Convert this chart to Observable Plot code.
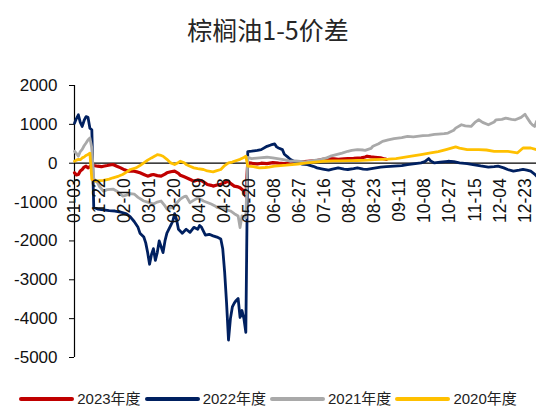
<!DOCTYPE html>
<html><head><meta charset="utf-8">
<script src="https://cdn.jsdelivr.net/npm/d3@7"></script>
<script src="https://cdn.jsdelivr.net/npm/@observablehq/plot@0.6"></script>
<style>
body{margin:0;background:#fff;width:536px;height:408px;overflow:hidden;position:relative;font-family:"Liberation Sans","Noto Sans CJK SC",sans-serif;}
#title{height:58px;line-height:58px;text-align:center;font-size:25px;color:#262626;font-family:"Noto Sans CJK SC",sans-serif;}
#legend{position:absolute;left:0;top:390px;width:536px;height:17px;line-height:17px;display:flex;justify-content:center;align-items:center;font-size:15px;color:#222;}
.item{display:flex;align-items:center;margin:0 2px;white-space:nowrap;line-height:17px;}
.sw{width:55px;height:4px;margin-right:3px;border-radius:2px;}
</style></head>
<body>
<div id="title">棕榈油1-5价差</div>
<div id="chart"></div>
<div id="legend"></div>
<script>
// Category tick labels (trading-day axis, one label every 13 trading days)
const xLabels = ["01-03","01-22","02-10","03-01","03-20","04-09","04-28","05-20","06-08","06-27","07-16","08-04","08-23","09-11","10-08","10-27","11-15","12-04","12-23"];
const xTickIdx = [0,13,26,39,52,65,78,91,104,117,130,143,156,169,182,195,208,221,234];
const yTicks = [2000,1000,0,-1000,-2000,-3000,-4000,-5000];

const seriesNames = ["2023年度","2022年度","2021年度","2020年度"];
const seriesColors = ["#C00000","#002060","#A9A9A9","#FFC000"];

// [trading-day index, spread]
const s2023 = [[0,-247],[1,-300],[2,-290],[3,-200],[4,-162],[5,-100],[6,-77],[7,-120],[8,-90],[9,-35],[10,-60],[12,-77],[14,-90],[15,-77],[17,-60],[19,-40],[20,-35],[22,-80],[24,-120],[26,-170],[28,-205],[31,-205],[33,-230],[34,-247],[36,-290],[38,-333],[40,-300],[41,-290],[43,-320],[45,-333],[47,-280],[48,-247],[50,-220],[52,-205],[54,-260],[55,-310],[57,-350],[59,-392],[61,-440],[62,-461],[64,-430],[66,-450],[68,-510],[69,-546],[71,-570],[72,-589],[74,-560],[76,-546],[78,-500],[80,-461],[81,-520],[83,-589],[85,-610],[86,-632],[88,-717],[89,-850],[90,8],[92,0],[95,-20],[97,0],[100,-10],[103,17],[106,0],[109,-10],[112,8],[115,20],[118,35],[121,51],[124,60],[126,68],[129,100],[132,120],[135,110],[137,100],[140,115],[142,120],[145,125],[149,137],[151,160],[152,180],[154,165],[156,154],[159,137],[161,110],[162,100]];

const s2022 = [[0,1030],[1,1150],[2,1245],[3,1050],[4,947],[5,1100],[6,1200],[7,1180],[8,900],[9,860],[10,-1140],[12,-1180],[15,-1200],[18,-1220],[21,-1230],[24,-1260],[27,-1300],[29,-1380],[31,-1500],[33,-1650],[34,-1800],[36,-1900],[37,-2050],[38,-2300],[39,-2600],[40,-2350],[41,-2200],[42,-2500],[43,-2300],[44,-2000],[45,-2150],[46,-2300],[47,-2000],[48,-1800],[50,-1600],[51,-1500],[52,-1300],[53,-1450],[54,-1700],[56,-1800],[58,-1700],[60,-1780],[62,-1650],[64,-1700],[65,-1600],[66,-1650],[68,-1850],[70,-1830],[72,-1870],[74,-1900],[76,-1950],[77,-2200],[78,-2800],[79,-3600],[80,-4550],[81,-4000],[82,-3700],[83,-3600],[84,-3530],[85,-3480],[86,-3970],[87,-3790],[88,-4000],[89,-4350],[90,300],[92,310],[95,330],[97,350],[100,435],[102,470],[104,495],[105,420],[106,392],[108,350],[109,230],[111,150],[112,100],[114,50],[116,9],[118,-20],[121,-35],[124,-80],[126,-120],[129,-150],[132,-180],[134,-150],[137,-120],[140,-150],[142,-162],[145,-140],[147,-120],[150,-150],[152,-160],[155,-130],[159,-100],[162,-90],[166,-77],[170,-60],[173,-35],[177,-10],[180,8],[182,40],[184,120],[185,60],[187,8],[190,30],[194,50],[197,40],[200,8],[204,-10],[207,-35],[211,-70],[215,-100],[218,-90],[220,-77],[223,-120],[225,-162],[228,-205],[231,-180],[233,-160],[235,-180],[237,-205],[239,-280],[240,-333]];

const s2021 = [[0,307],[1,250],[2,180],[3,300],[4,358],[5,450],[6,520],[7,600],[8,648],[9,392],[10,-400],[12,-503],[13,-600],[15,-717],[17,-680],[20,-666],[22,-720],[25,-845],[27,-820],[29,-780],[31,-793],[33,-880],[36,-973],[38,-1000],[41,-1050],[43,-1000],[45,-973],[47,-1100],[48,-1178],[50,-1150],[51,-1140],[53,-1030],[55,-922],[57,-860],[58,-845],[60,-1016],[62,-950],[64,-896],[66,-940],[67,-973],[69,-1010],[71,-1050],[73,-1100],[74,-1140],[77,-1178],[79,-1200],[81,-1229],[83,-1300],[85,-1357],[86,-1656],[87,-1357],[88,-1380],[89,-1400],[90,150],[92,120],[96,140],[100,154],[103,137],[107,103],[110,80],[112,51],[115,60],[120,34],[123,60],[128,100],[131,137],[133,180],[136,222],[139,260],[142,307],[144,330],[147,350],[150,340],[151,330],[154,380],[155,435],[158,500],[160,563],[163,600],[166,631],[170,660],[173,691],[176,680],[178,691],[181,710],[184,717],[187,740],[189,751],[192,760],[194,776],[197,850],[198,904],[201,990],[203,960],[206,947],[208,1050],[210,1118],[212,1050],[215,990],[218,1060],[219,1118],[222,1130],[224,1160],[227,1130],[229,1118],[232,1180],[234,1260],[235,1180],[237,1032],[238,980],[239,947],[240,1075]];

const s2020 = [[0,51],[1,80],[2,100],[3,90],[4,137],[5,160],[6,200],[7,222],[8,260],[9,-418],[11,-461],[13,-450],[15,-440],[18,-410],[20,-375],[23,-330],[25,-290],[27,-230],[29,-162],[32,-120],[34,-60],[36,8],[38,80],[40,137],[42,190],[43,222],[45,200],[46,180],[48,100],[50,8],[52,-35],[54,20],[55,51],[57,10],[58,-35],[60,-80],[62,-120],[64,-140],[67,-162],[69,-200],[72,-222],[74,-190],[76,-162],[78,-60],[80,8],[82,30],[83,51],[86,100],[88,150],[89,180],[90,-77],[93,-90],[96,-120],[99,-110],[101,-100],[104,-77],[107,-60],[110,-50],[113,-35],[116,-20],[121,8],[125,30],[129,50],[135,60],[138,62],[144,68],[147,70],[152,77],[156,90],[160,100],[163,105],[167,120],[171,150],[175,180],[180,222],[185,264],[189,300],[193,350],[198,418],[200,390],[204,350],[210,350],[214,340],[218,307],[225,307],[230,264],[233,392],[237,392],[240,350]];

const seriesData = [s2023, s2022, s2021, s2020];
const widths = [3.2, 2.8, 2.8, 2.8];

const lineMarks = seriesData.map((s, k) =>
  Plot.line(s, {x: d => d[0], y: d => d[1], stroke: seriesColors[k], strokeWidth: widths[k], strokeLinejoin: "round", strokeLinecap: "round"})
);

const chart = Plot.plot({
  width: 536,
  height: 330,
  marginLeft: 74,
  marginRight: 0,
  marginTop: 27,
  marginBottom: 31,
  x: {domain: [0, 240], axis: null},
  y: {domain: [-5000, 2000], axis: null},
  style: {fontFamily: '"Liberation Sans","Noto Sans CJK SC",sans-serif', background: "#fff", color: "#111", overflow: "visible"},
  marks: [
    Plot.axisY(yTicks, {anchor: "left", tickSize: 5, tickPadding: 12, fontSize: 17, tickFormat: d => String(d), label: null, stroke: "#000", fill: "#111"}),
    Plot.ruleX([0], {y1: -5000, y2: 2000, stroke: "#000", strokeWidth: 1.2}),
    Plot.ruleY([0], {stroke: "#000", strokeWidth: 1.2}),
    ...lineMarks,
    Plot.text(xTickIdx, {x: d => d, y: 0, text: (d, i) => xLabels[i], rotate: -90, textAnchor: "end", dy: 15, fontSize: 17.5, fill: "#111"})
  ]
});
document.getElementById("chart").appendChild(chart);

const legend = document.getElementById("legend");
seriesNames.forEach((n, k) => {
  const it = document.createElement("div");
  it.className = "item";
  it.innerHTML = `<span class="sw" style="background:${seriesColors[k]}"></span><span>${n}</span>`;
  legend.appendChild(it);
});
</script>
</body></html>
